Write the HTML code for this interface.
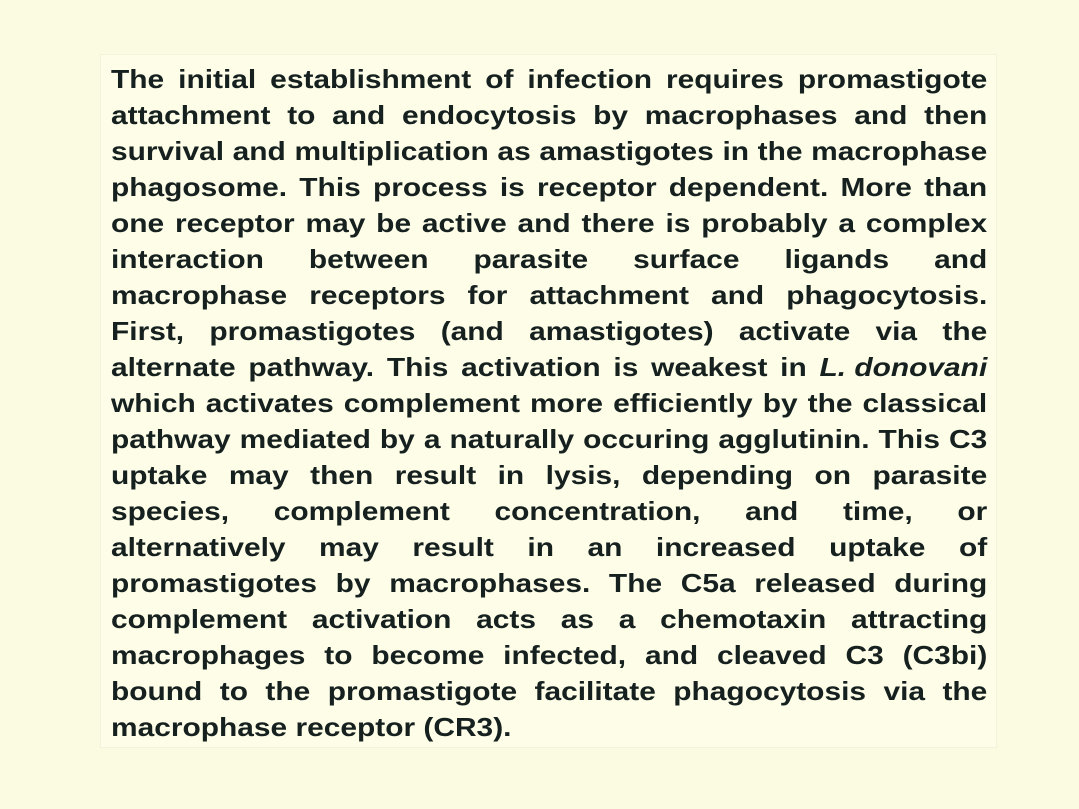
<!DOCTYPE html>
<html><head><meta charset="utf-8"><style>
html,body{margin:0;padding:0}
body{width:1079px;height:809px;background:#fbfbe1;position:relative;overflow:hidden;font-family:"Liberation Sans",Arial,sans-serif}
#box{position:absolute;left:100px;top:54px;width:897px;height:694px;background:#fdfde8;border:1px solid #f3f3dc;box-sizing:border-box}
#text{position:absolute;left:111px;top:61px;width:762px;font-weight:bold;font-size:26px;line-height:36px;color:#15201f;transform:scaleX(1.15);transform-origin:0 0}
.l{white-space:nowrap;display:flex;justify-content:space-between}
.last{text-align:left;white-space:nowrap}
</style></head><body>
<div id="box"></div>
<div id="text">
<div class="l"><span>The</span><span>initial</span><span>establishment</span><span>of</span><span>infection</span><span>requires</span><span>promastigote</span></div>
<div class="l"><span>attachment</span><span>to</span><span>and</span><span>endocytosis</span><span>by</span><span>macrophases</span><span>and</span><span>then</span></div>
<div class="l"><span>survival</span><span>and</span><span>multiplication</span><span>as</span><span>amastigotes</span><span>in</span><span>the</span><span>macrophase</span></div>
<div class="l"><span>phagosome.</span><span>This</span><span>process</span><span>is</span><span>receptor</span><span>dependent.</span><span>More</span><span>than</span></div>
<div class="l"><span>one</span><span>receptor</span><span>may</span><span>be</span><span>active</span><span>and</span><span>there</span><span>is</span><span>probably</span><span>a</span><span>complex</span></div>
<div class="l"><span>interaction</span><span>between</span><span>parasite</span><span>surface</span><span>ligands</span><span>and</span></div>
<div class="l"><span>macrophase</span><span>receptors</span><span>for</span><span>attachment</span><span>and</span><span>phagocytosis.</span></div>
<div class="l"><span>First,</span><span>promastigotes</span><span>(and</span><span>amastigotes)</span><span>activate</span><span>via</span><span>the</span></div>
<div class="l"><span>alternate</span><span>pathway.</span><span>This</span><span>activation</span><span>is</span><span>weakest</span><span>in</span><span><i>L. donovani</i></span></div>
<div class="l"><span>which</span><span>activates</span><span>complement</span><span>more</span><span>efficiently</span><span>by</span><span>the</span><span>classical</span></div>
<div class="l"><span>pathway</span><span>mediated</span><span>by</span><span>a</span><span>naturally</span><span>occuring</span><span>agglutinin.</span><span>This</span><span>C3</span></div>
<div class="l"><span>uptake</span><span>may</span><span>then</span><span>result</span><span>in</span><span>lysis,</span><span>depending</span><span>on</span><span>parasite</span></div>
<div class="l"><span>species,</span><span>complement</span><span>concentration,</span><span>and</span><span>time,</span><span>or</span></div>
<div class="l"><span>alternatively</span><span>may</span><span>result</span><span>in</span><span>an</span><span>increased</span><span>uptake</span><span>of</span></div>
<div class="l"><span>promastigotes</span><span>by</span><span>macrophases.</span><span>The</span><span>C5a</span><span>released</span><span>during</span></div>
<div class="l"><span>complement</span><span>activation</span><span>acts</span><span>as</span><span>a</span><span>chemotaxin</span><span>attracting</span></div>
<div class="l"><span>macrophages</span><span>to</span><span>become</span><span>infected,</span><span>and</span><span>cleaved</span><span>C3</span><span>(C3bi)</span></div>
<div class="l"><span>bound</span><span>to</span><span>the</span><span>promastigote</span><span>facilitate</span><span>phagocytosis</span><span>via</span><span>the</span></div>
<div class="last">macrophase receptor (CR3).</div>
</div>
</body></html>
